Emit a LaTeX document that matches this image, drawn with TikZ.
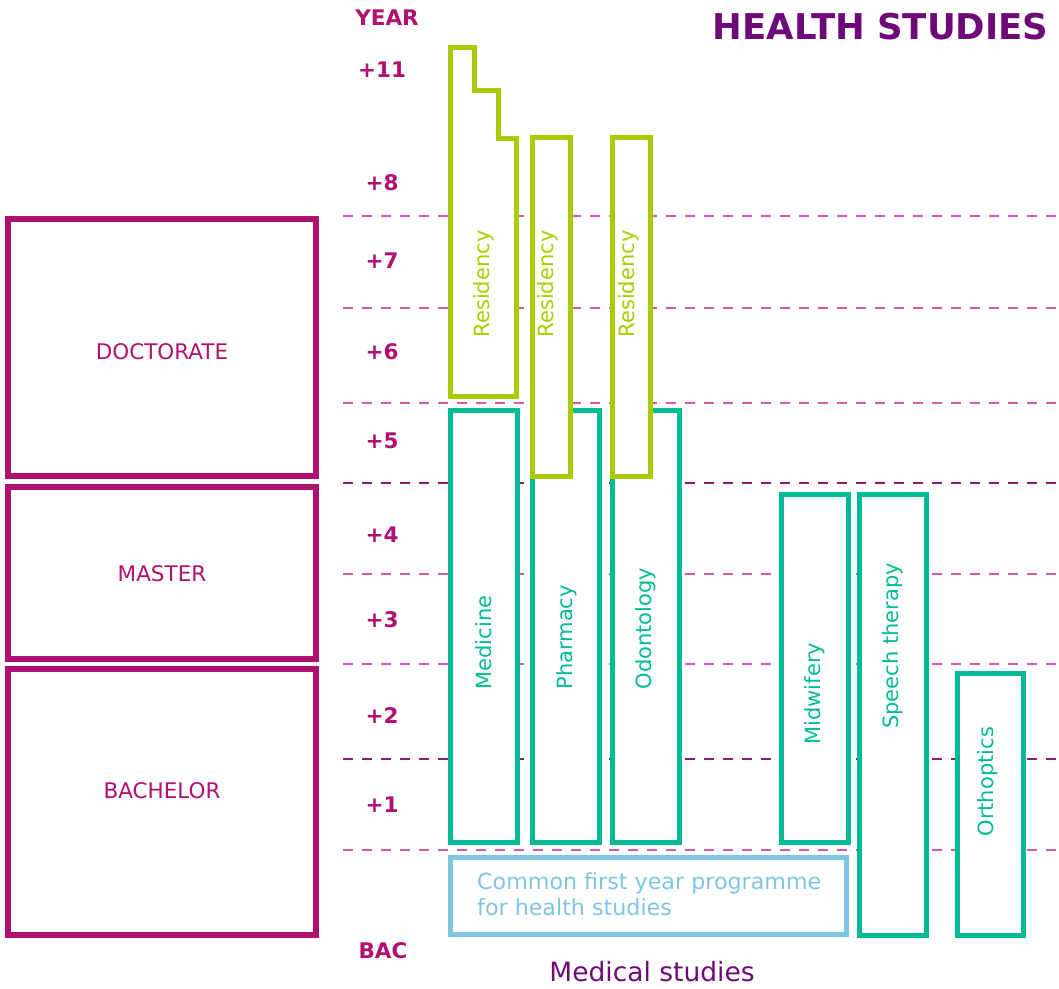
\documentclass[tikz,border=0pt]{standalone}
\usepackage{fontspec}
\setmainfont{DejaVu Sans}
\definecolor{mag}{RGB}{176,16,111}
\definecolor{purp}{RGB}{110,10,120}
\definecolor{lime}{RGB}{168,204,0}
\definecolor{teal}{RGB}{0,188,148}
\definecolor{lblue}{RGB}{128,196,228}
\definecolor{pinkdash}{RGB}{212,86,174}
\definecolor{darkdash}{RGB}{142,26,114}
\tikzset{
  levelbox/.style={draw=mag,line width=6pt},
  leveltext/.style={text=mag,font=\fontsize{21.5}{25}\selectfont},
  yeartext/.style={text=mag,font=\bfseries\fontsize{21.5}{25}\selectfont},
  gridline/.style={pinkdash,line width=1.5pt,dash pattern=on 10pt off 9pt},
  gridlinedark/.style={darkdash,line width=1.5pt,dash pattern=on 10pt off 9pt},
  studybox/.style={draw=teal,line width=5pt,fill=white},
  studytext/.style={text=teal,rotate=90,anchor=west,font=\fontsize{21}{25}\selectfont},
  resbox/.style={draw=lime,line width=5pt,fill=white},
  restext/.style={text=lime,rotate=90,font=\fontsize{21}{25}\selectfont},
}
\begin{document}
\begin{tikzpicture}[x=1pt,y=-1pt]
\useasboundingbox (0,0) rectangle (1059,988);
% dashed grid lines
\foreach \yy in {216,308,403,574,664,850}
  \draw[gridline] (343,\yy) -- (1059,\yy);
\foreach \yy in {483,759}
  \draw[gridlinedark] (343,\yy) -- (1059,\yy);
% level boxes
\draw[levelbox] (8,219) rectangle (316,476);
\draw[levelbox] (8,487) rectangle (316,659);
\draw[levelbox] (8,669) rectangle (316,935);
\node[leveltext] (doc) at (162,352) {DOCTORATE};
\node[leveltext] (mas) at (162,574) {MASTER};
\node[leveltext] (bac) at (162,791) {BACHELOR};
% year labels
\node[yeartext] (year) at (387,18) {YEAR};
\node[yeartext] (y11) at (382,70) {+11};
\node[yeartext] (y8) at (382,183) {+8};
\node[yeartext] (y7) at (382,261) {+7};
\node[yeartext] (y6) at (382,352) {+6};
\node[yeartext] (y5) at (382,441) {+5};
\node[yeartext] (y4) at (382,535) {+4};
\node[yeartext] (y3) at (382,620) {+3};
\node[yeartext] (y2) at (382,716) {+2};
\node[yeartext] (y1) at (382,805) {+1};
\node[yeartext] (ybac) at (383,951) {BAC};
% title
\node[text=purp,font=\bfseries\fontsize{35.5}{40}\selectfont,anchor=east] (title) at (1052,27) {HEALTH STUDIES};
% study boxes
\draw[studybox] (450.5,410) rectangle (517,842);
\draw[studybox] (532,410) rectangle (599,842);
\draw[studybox] (612,410) rectangle (679,842);
\draw[studybox] (781,494) rectangle (848,842);
\draw[studybox] (859,494) rectangle (926,935);
\draw[studybox] (957,673) rectangle (1023,935);
\node[studytext] (med) at (484,693) {Medicine};
\node[studytext] (pha) at (567,693) {Pharmacy};
\node[studytext] (odo) at (646,693) {Odontology};
\node[studytext] (mid) at (815,748) {Midwifery};
\node[studytext,anchor=center] (spe) at (893,646) {Speech therapy};
\node[studytext] (ort) at (988,840) {Orthoptics};
% residency boxes
\draw[resbox] (450.5,47) -- (474,47) -- (474,90) -- (498,90) -- (498,138) -- (516,138) -- (516,396) -- (450.5,396) -- cycle;
\draw[resbox] (532,137) rectangle (570,476);
\draw[resbox] (612,137) rectangle (650,476);
\node[restext] (r1) at (484,284) {Residency};
\node[restext] (r2) at (548,284) {Residency};
\node[restext] (r3) at (629,284) {Residency};
% common first year
\draw[draw=lblue,line width=5pt] (450.5,857) rectangle (846,934);
\node[text=lblue,anchor=north west,align=left,inner sep=0pt,font=\fontsize{22.2}{26.5}\selectfont] (common) at (477,872) {Common first year programme\\for health studies};
\node[text=purp,font=\fontsize{26.5}{30}\selectfont] (medstud) at (652,972) {Medical studies};
\end{tikzpicture}
\end{document}
